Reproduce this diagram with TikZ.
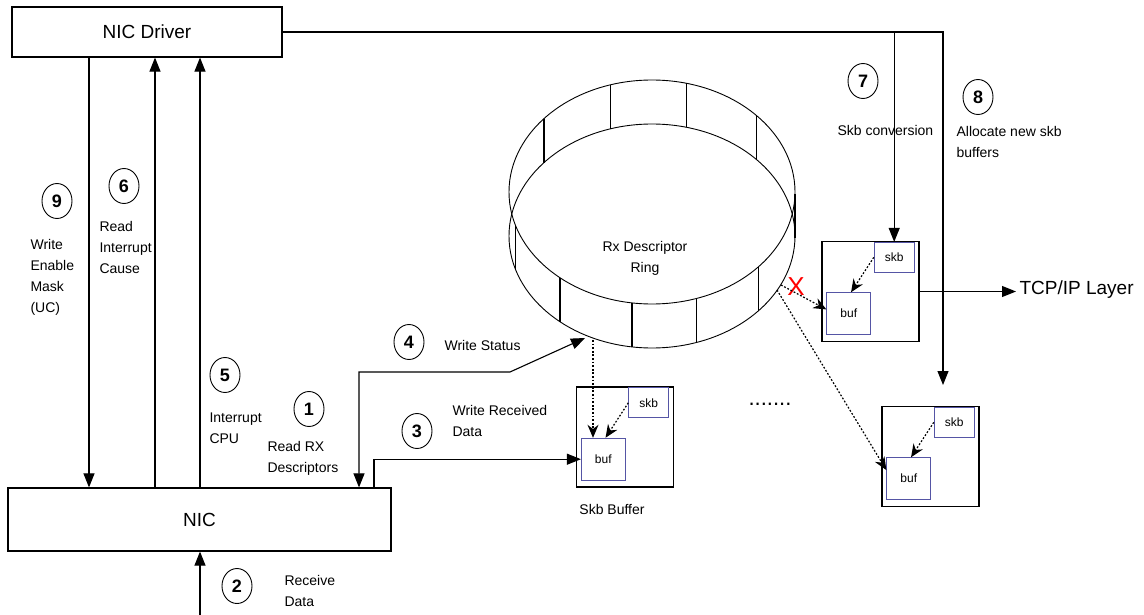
\documentclass[tikz,border=0pt]{standalone}
\usepackage{fontspec}
\setmainfont{Liberation Sans}
\usetikzlibrary{arrows.meta,shapes.geometric,calc}
\definecolor{skbblue}{RGB}{85,85,165}
\begin{document}
\begin{tikzpicture}[x=1pt, y=-1pt, line width=1.1pt,
  font=\fontsize{14}{21}\selectfont,
  box/.style={draw, line width=1.2pt, inner sep=0pt},
  inbox/.style={draw=skbblue, line width=0.8pt, inner sep=0pt, font=\fontsize{12}{14}\selectfont},
  num/.style={draw, ellipse, line width=0.9pt, minimum width=30pt, minimum height=35pt, inner sep=0pt, font=\fontsize{18}{18}\selectfont\bfseries},
  lbl/.style={anchor=west, align=left, inner sep=0pt},
  arr/.style={-{Triangle[length=14pt,width=11pt]}},
  dotarr/.style={dash pattern=on 1.8pt off 1.8pt, line width=1.2pt, -{Stealth[length=13pt,width=11pt]}}]
  \useasboundingbox (0,0) rectangle (1144,615);

  % driver and NIC
  \node[box, minimum width=270pt, minimum height=50pt, font=\fontsize{19}{19}\selectfont] (drv) at (147,32) {NIC Driver};
  \node[box, minimum width=383pt, minimum height=63pt, font=\fontsize{19}{19}\selectfont] (nic) at (199.5,519.5) {NIC};

  % descriptor ring
  \draw[line width=0.9pt] (652,192) ellipse [x radius=143, y radius=112];
  \draw[line width=0.9pt] (652,236) ellipse [x radius=143, y radius=112];
  \foreach \a in {139,107,76,43,-1,-42,-72,-98,-130,-163}
    \draw[line width=1.3pt] ({652+143*cos(\a)},{192-112*sin(\a)}) -- ++(0,44);
  \node[align=center] (ring) at (645,258) {Rx Descriptor\\Ring};
  \coordinate (ringws) at (585,338);
  \coordinate (ringbuf) at (593,340);
  \coordinate (ringx) at (781,285);
  \coordinate (ringdn) at (777,290);

  % skb buffers
  \foreach \n/\x/\y in {1/625/437, 2/870.5/291.5, 3/930.5/456.5} {
    \node[box, minimum width=97pt, minimum height=100pt] (sb\n) at (\x,\y) {};
    \node[inbox, minimum width=40pt, minimum height=30pt, anchor=north east] (skb\n) at ($(sb\n.north east)+(-5,1)$) {skb};
    \node[inbox, minimum width=44pt, minimum height=42pt, anchor=south west] (buf\n) at ($(sb\n.south west)+(5,-7)$) {buf};
    \draw[dotarr] (skb\n.west) -- ($(buf\n.north west)!0.55!(buf\n.north east)$);
  }
  \node (skblbl) at (612,509) {Skb Buffer};
  \node[font=\fontsize{22}{22}\selectfont, inner sep=0pt] (gap) at (770,404) {.......};
  \node[anchor=west, inner sep=3pt, font=\fontsize{19}{19}\selectfont] (tcp) at (1016,290) {TCP/IP Layer};
  \node[text=red, inner sep=0pt, font=\fontsize{26}{26}\selectfont] (xmark) at (796,287) {X};

  % connectors
  \draw[arr] (drv.south -| 89,0) -- (nic.north -| 89,0);
  \foreach \x in {155,200}
    \draw[arr] (nic.north -| \x,0) -- (drv.south -| \x,0);
  \coordinate (rxin) at (200,615);
  \draw[arr] (rxin) -- (nic.south -| rxin);
  \draw[{Triangle[length=14pt,width=11pt]}-{Triangle[length=14pt,width=11pt]}] (nic.north -| 359,0) |- (510,372) -- (ringws);
  \draw[arr] (nic.north -| 374,0) |- (buf1.west);
  \draw[dotarr] (ringbuf) -- (buf1.north -| ringbuf);
  \draw[dotarr] (ringx) -- ($(buf2.north west)!0.4!(buf2.south west)$);
  \draw[dotarr] (ringdn) -- ($(buf3.north west)!0.3!(buf3.south west)$);
  \coordinate (alloc) at (943,385);
  \draw[arr] (drv.east) -| (alloc);
  \draw[arr] (drv.east -| skb2.north) -- (skb2.north);
  \draw[arr] (sb2.east) -- (sb2.east -| tcp.west);

  % step numbers and labels
  \node[num] (n9) at (57,201) {9};
  \node[lbl] (l9) at (30,277) {Write\\Enable\\Mask\\(UC)};
  \node[num] (n6) at (124,186) {6};
  \node[lbl] (l6) at (99,247) {Read\\Interrupt\\Cause};
  \node[num] (n5) at (225,375) {5};
  \node[lbl] (l5) at (209,428) {Interrupt\\CPU};
  \node[num] (n1) at (309,409) {1};
  \node[lbl] (l1) at (267,458) {Read RX\\Descriptors};
  \node[num] (n4) at (409,342) {4};
  \node[lbl] (l4) at (444,345) {Write Status};
  \node[num] (n3) at (417,431) {3};
  \node[lbl] (l3) at (452,421) {Write Received\\Data};
  \node[num] (n2) at (237,586) {2};
  \node[lbl] (l2) at (284,591) {Receive\\Data};
  \node[num] (n7) at (863,81) {7};
  \node[lbl] (l7) at (837,130) {Skb conversion};
  \node[num] (n8) at (978,97) {8};
  \node[lbl] (l8) at (956,142) {Allocate new skb\\buffers};
\end{tikzpicture}
\end{document}
